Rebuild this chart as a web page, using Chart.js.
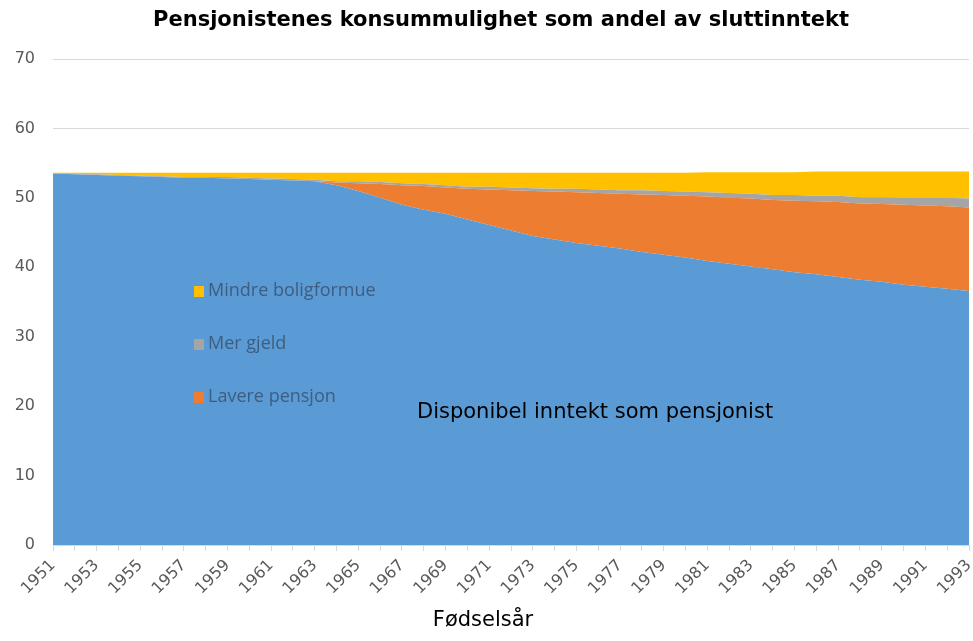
<!DOCTYPE html>
<html>
<head>
<meta charset="utf-8">
<script src="https://cdn.jsdelivr.net/npm/chart.js@4/dist/chart.umd.min.js"></script>
<style>
  html, body { margin: 0; padding: 0; background: #fff; }
  #wrap { width: 973px; height: 641px; }
</style>
</head>
<body>
<div id="wrap"><canvas id="pensionChart" width="973" height="641"></canvas></div>
<script>
// Fødselsår 1951-1993
const years = [];
for (let y = 1951; y <= 1993; y++) years.push(String(y));

// Disponibel inntekt som pensjonist
const disponibel = [53.5, 53.4, 53.3, 53.2, 53.1, 53.0, 52.9, 52.9, 52.8, 52.7, 52.6, 52.5, 52.4,
    51.8, 51.0, 50.0, 49.0, 48.3, 47.7, 46.9, 46.1, 45.3, 44.5,
    44.0, 43.5, 43.1, 42.7, 42.2, 41.8, 41.4, 40.9, 40.5, 40.1, 39.7, 39.3, 39.0, 38.6, 38.2, 37.9, 37.5, 37.2, 36.9, 36.6];

// Lavere pensjon
const laverePensjon = [0, 0, 0, 0, 0, 0, 0, 0, 0, 0, 0, 0, 0,
    0.4, 1.1, 2.0, 2.8, 3.4, 3.8, 4.4, 5.1, 5.8, 6.5,
    6.9, 7.3, 7.6, 7.9, 8.3, 8.6, 8.9, 9.3, 9.5, 9.8, 10.0, 10.3, 10.5, 10.8, 11.0, 11.2, 11.5, 11.7, 11.9, 12.0];

// Mer gjeld
const merGjeld = [0.0, 0.0, 0.1, 0.1, 0.1, 0.1, 0.1, 0.1, 0.2, 0.2, 0.2, 0.2, 0.2,
    0.2, 0.3, 0.3, 0.3, 0.3, 0.3, 0.3, 0.4, 0.4, 0.4,
    0.4, 0.5, 0.5, 0.5, 0.6, 0.6, 0.6, 0.6, 0.7, 0.7, 0.7, 0.8, 0.8, 0.9, 0.9, 1.0, 1.0, 1.1, 1.2, 1.3];

// Mindre boligformue
const mindreBolig = [0.1, 0.2, 0.2, 0.3, 0.4, 0.5, 0.6, 0.6, 0.6, 0.7, 0.8, 0.9, 1.0,
    1.2, 1.2, 1.3, 1.5, 1.6, 1.8, 2.0, 2.0, 2.1, 2.2,
    2.3, 2.3, 2.4, 2.5, 2.5, 2.6, 2.7, 2.9, 3.0, 3.1, 3.3, 3.3, 3.5, 3.5, 3.7, 3.7, 3.8, 3.8, 3.8, 3.9];

const yTicks = [0, 10, 20, 30, 40, 50, 60, 70];

// title, legend inside plot, area label, axis title
const overlayText = {
    id: 'overlayText',
    afterDraw(chart) {
        const ctx = chart.ctx;
        ctx.save();
        ctx.textBaseline = 'middle';
        // title
        ctx.fillStyle = '#000';
        ctx.font = 'bold 21px "DejaVu Sans"';
        ctx.textAlign = 'center';
        ctx.fillText('Pensjonistenes konsummulighet som andel av sluttinntekt', 501, 21);
        // legend entries, top to bottom
        const entries = [3, 2, 1];
        entries.forEach((idx, i) => {
            const ds = chart.data.datasets[idx];
            const y = 291 + i * 53;
            ctx.fillStyle = ds.backgroundColor;
            ctx.fillRect(194, y - 5, 10, 11);
            ctx.fillStyle = '#3e5d7f';
            ctx.font = '18px "Open Sans"';
            ctx.textAlign = 'left';
            ctx.fillText(ds.label, 208, y);
        });
        // label for the blue area
        ctx.fillStyle = '#000';
        ctx.font = '21px "DejaVu Sans"';
        ctx.textAlign = 'left';
        ctx.fillText(chart.data.datasets[0].label, 417, 413);
        // x axis title
        ctx.textAlign = 'center';
        ctx.fillText('Fødselsår', 483, 621);
        ctx.restore();
    }
};

const ctxPension = document.getElementById('pensionChart').getContext('2d');
const pensionChart = new Chart(ctxPension, {
    type: 'line',
    data: {
        labels: years,
        datasets: [{
            label: 'Disponibel inntekt som pensjonist',
            data: disponibel,
            backgroundColor: '#5B9BD5',
            borderColor: '#5B9BD5',
            fill: 'origin'
        }, {
            label: 'Lavere pensjon',
            data: laverePensjon,
            backgroundColor: '#ED7D31',
            borderColor: '#ED7D31',
            fill: '-1'
        }, {
            label: 'Mer gjeld',
            data: merGjeld,
            backgroundColor: '#A5A5A5',
            borderColor: '#A5A5A5',
            fill: '-1'
        }, {
            label: 'Mindre boligformue',
            data: mindreBolig,
            backgroundColor: '#FFC000',
            borderColor: '#FFC000',
            fill: '-1'
        }]
    },
    options: {
        responsive: false,
        animation: false,
        elements: {
            point: { radius: 0 },
            line: { borderWidth: 0, tension: 0 }
        },
        layout: {
            padding: { left: 0, right: 4, top: 59, bottom: 0 }
        },
        plugins: {
            legend: { display: false },
            tooltip: { enabled: false },
            title: { display: false }
        },
        scales: {
            x: {
                stacked: true,
                offset: false,
                grid: {
                    drawOnChartArea: false,
                    drawTicks: true,
                    tickLength: 6,
                    color: '#d9d9d9'
                },
                border: { display: false },
                ticks: {
                    autoSkip: false,
                    maxRotation: 45,
                    minRotation: 45,
                    padding: 5,
                    color: '#595959',
                    font: { family: 'DejaVu Sans', size: 16 },
                    callback: function (val, i) {
                        return i % 2 === 0 ? years[i] : '';
                    }
                },
                afterFit: function (scale) {
                    scale.height = 96;
                    scale.paddingLeft = 0;
                    scale.paddingRight = 0;
                }
            },
            y: {
                stacked: true,
                min: 0,
                max: 70,
                afterBuildTicks: function (scale) {
                    scale.ticks = yTicks.map(v => ({ value: v }));
                },
                grid: {
                    color: '#d9d9d9',
                    drawTicks: false
                },
                border: { display: false },
                ticks: {
                    color: '#595959',
                    padding: 18,
                    font: { family: 'DejaVu Sans', size: 16 }
                },
                afterFit: function (scale) {
                    scale.width = 53;
                }
            }
        }
    },
    plugins: [overlayText]
});
</script>
</body>
</html>
